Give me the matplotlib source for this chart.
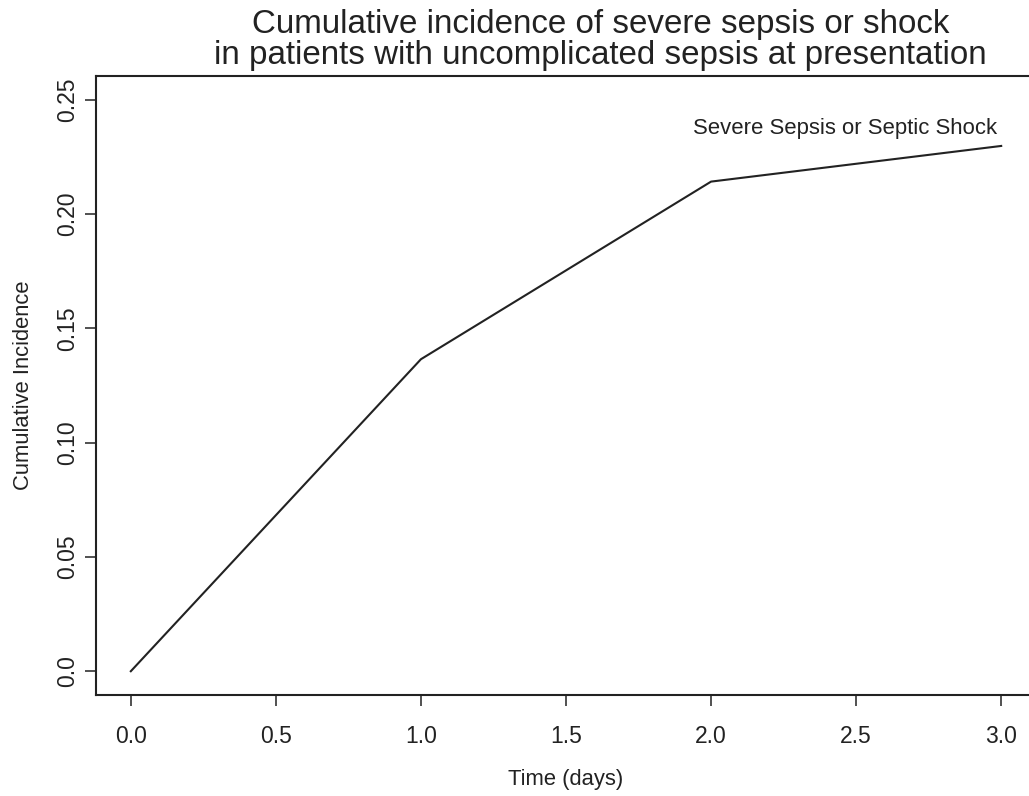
import matplotlib
matplotlib.use("Agg")
import matplotlib.pyplot as plt

# cumulative incidence
days = [0.0, 1.0, 2.0, 3.0]
incidence = [0.0, 0.1365, 0.2142, 0.2298]

xticks = [0.0, 0.5, 1.0, 1.5, 2.0, 2.5, 3.0]
xtick_labels = ["0.0", "0.5", "1.0", "1.5", "2.0", "2.5", "3.0"]
yticks = [0.0, 0.05, 0.10, 0.15, 0.20, 0.25]
ytick_labels = ["0.0", "0.05", "0.10", "0.15", "0.20", "0.25"]

curve_label = "Severe Sepsis or Septic Shock"
title_1 = "Cumulative incidence of severe sepsis or shock"
title_2 = "in patients with uncomplicated sepsis at presentation"

plt.rcParams['font.family'] = ['Liberation Sans', 'DejaVu Sans']
ink = '#222222'

W, H = 1029, 796
fig = plt.figure(figsize=(W / 100, H / 100), dpi=100)
# plot box runs past the right edge of the picture, like the original crop
left, right, top, bottom = 96, 1036, 76, 695
ax = fig.add_axes([left / W, 1 - bottom / H, (right - left) / W, (bottom - top) / H])

ax.plot(days, incidence, color=ink, lw=1.5)
ax.annotate(curve_label, xy=(days[-1], incidence[-1]), xytext=(-3, 8.6),
            textcoords='offset points', ha='right', va='baseline',
            fontsize=15.9, color=ink)

ax.set_xlim(-0.12, 3.12)
ax.set_ylim(-0.0104, 0.2604)
ax.set_xticks(xticks, xtick_labels)
ax.set_yticks(yticks, ytick_labels)

for s in ax.spines.values():
    s.set_linewidth(1.5)
    s.set_color(ink)
ax.tick_params(direction='out', length=8, width=1.1, colors=ink, labelsize=16.5)
ax.tick_params(axis='x', pad=13.5)
ax.tick_params(axis='y', pad=4.5, labelrotation=90)
for lab in ax.get_yticklabels():
    lab.set_va('center')

fig.text(566 / W, 1 - 779 / H, "Time (days)", ha='center', va='center',
         fontsize=15.8, color=ink)
fig.text(24 / W, 1 - 385 / H, "Cumulative Incidence", ha='center', va='center',
         rotation=90, fontsize=15.8, color=ink)

fig.text(601 / W, 1 - 33 / H, title_1, ha='center', va='baseline',
         fontsize=23.9, color=ink)
fig.text(600 / W, 1 - 64 / H, title_2, ha='center', va='baseline',
         fontsize=23.9, color=ink)

fig.savefig("out.png", dpi=100)
